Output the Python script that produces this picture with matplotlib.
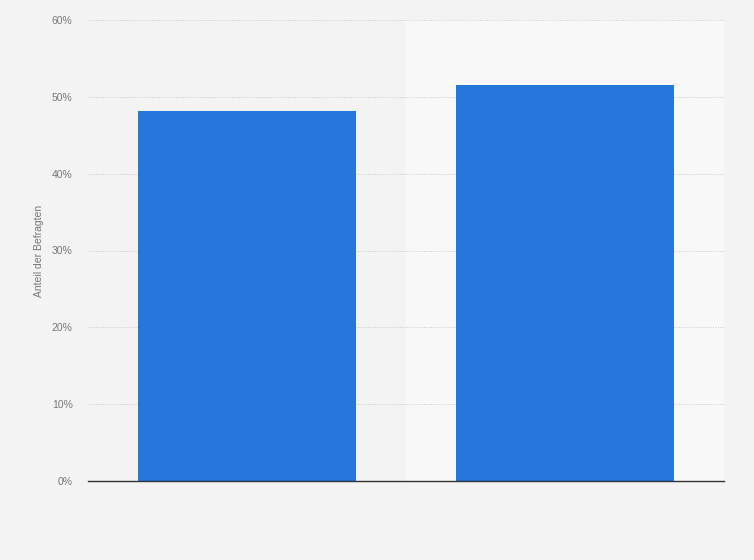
import matplotlib.pyplot as plt
from matplotlib.ticker import FuncFormatter

plt.rcParams['font.family'] = ['Liberation Sans', 'DejaVu Sans']

categories = ["A", "B"]
values = [48.2, 51.5]
yticks = [0, 10, 20, 30, 40, 50, 60]

fig = plt.figure(figsize=(7.54, 5.6), dpi=100)
fig.patch.set_facecolor("#f3f3f3")
# axes box in pixels: x 88..724, y 20..481
ax = fig.add_axes([88 / 754, (560 - 481) / 560, 636 / 754, 461 / 560])
ax.set_facecolor("#f3f3f3")

x = list(range(len(categories)))
ax.axvspan(0.5, 1.5, color="#f8f8f8", zorder=0)
ax.bar(x, values, width=0.686, color="#2776db", zorder=3)

ax.set_xlim(-0.5, 1.5)
ax.set_ylim(0, 60)
ax.set_yticks(yticks)
ax.yaxis.set_major_formatter(FuncFormatter(lambda v, p: f"{int(v)}%"))
ax.tick_params(axis="y", length=0, labelsize=7.5, labelcolor="#777777", pad=11)
ax.set_xticks([])
ax.grid(axis="y", color="#cccccc", linestyle=(0, (1, 1.5)), linewidth=0.7, zorder=1)
for side in ["top", "right", "left"]:
    ax.spines[side].set_visible(False)
ax.spines["bottom"].set_color("#333333")
ax.spines["bottom"].set_linewidth(1.0)
ax.spines["bottom"].set_zorder(4)

ax.set_ylabel("Anteil der Befragten", fontsize=7.5, color="#777777", labelpad=6)

fig.savefig("out.png", dpi=100, facecolor=fig.get_facecolor())
